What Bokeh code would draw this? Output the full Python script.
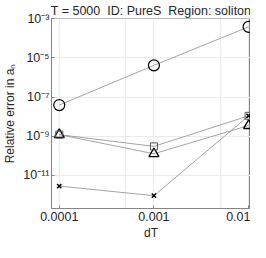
from bokeh.plotting import figure
from bokeh.models import FixedTicker, Range1d
from bokeh.embed import file_html
from bokeh.resources import INLINE

# ---- data ----
dT = [1e-4, 1e-3, 1e-2]
err_circle = [3.9e-8, 4.2e-6, 3.9e-4]
err_square = [1.2e-9, 3.0e-10, 1.1e-8]
err_triangle = [1.2e-9, 1.26e-10, 3.5e-9]
err_cross = [2.8e-12, 9e-13, 1.1e-8]

x_ticks = [1e-4, 1e-3, 1e-2]
x_tick_labels = ["0.0001", "0.001", "0.01"]
x_minor = [5e-4, 5e-3]
y_ticks = [1e-11, 1e-9, 1e-7, 1e-5, 1e-3]
y_tick_labels = ["10\u207b\u00b9\u00b9", "10\u207b\u2079", "10\u207b\u2077", "10\u207b\u2075", "10\u207b\u00b3"]

title_text = "T = 5000\u00a0\u00a0ID: PureS\u00a0\u00a0Region: soliton"
x_label = "dT"
y_label = "Relative error in a\u2099"

FONT = "Liberation Sans"
GRID = "#ebebeb"
AX = "#858585"
LINE = "#999999"
TXT = "#262626"

p = figure(width=250, height=242, x_axis_type="log", y_axis_type="log",
           x_range=Range1d(10 ** -4.082, 10 ** -1.98),
           y_range=Range1d(10 ** -12.7, 10 ** -2.98),
           output_backend="svg", toolbar_location=None,
           min_border_left=43, min_border_right=0, min_border_top=0, min_border_bottom=0)

p.title.text = title_text
p.title.align = "center"
p.title.text_font = FONT
p.title.text_font_size = "12.5px"
p.title.text_font_style = "normal"
p.title.text_color = TXT
p.title.offset = 0
p.title.standoff = 2

p.xaxis.ticker = FixedTicker(ticks=x_ticks, minor_ticks=x_minor)
p.xaxis.major_label_overrides = {t: l for t, l in zip(x_ticks, x_tick_labels)}
p.yaxis.ticker = FixedTicker(ticks=y_ticks, minor_ticks=[])
p.yaxis.major_label_overrides = {t: l for t, l in zip(y_ticks, y_tick_labels)}

p.xaxis.axis_label = x_label
p.yaxis.axis_label = y_label
for ax in (p.xaxis, p.yaxis):
    ax.axis_label_text_font = FONT
    ax.axis_label_text_font_size = "12px"
    ax.axis_label_text_font_style = "normal"
    ax.axis_label_text_color = TXT
    ax.axis_label_text_line_height = 0.9
    ax.major_label_text_font = FONT
    ax.major_label_text_font_size = "12.5px"
    ax.major_label_text_color = TXT
    ax.major_label_text_line_height = 0.9
    ax.axis_line_color = AX
    ax.major_tick_line_color = AX
    ax.major_tick_in = 3
    ax.major_tick_out = 0
    ax.minor_tick_in = 0
    ax.minor_tick_out = 0
    ax.minor_tick_line_color = None
p.xaxis.major_label_standoff = 3
p.xaxis.axis_label_standoff = 2
p.yaxis.major_label_standoff = 2
p.yaxis.axis_label_standoff = 3

p.outline_line_color = AX
p.xgrid.grid_line_color = GRID
p.xgrid.minor_grid_line_color = GRID
p.ygrid.grid_line_color = GRID

for ys in (err_circle, err_square, err_triangle, err_cross):
    p.line(dT, ys, line_color=LINE, line_width=0.9)

p.scatter(dT, err_circle, marker="circle", size=11, fill_color=None, line_color="black", line_width=1.2)
p.scatter(dT, err_triangle, marker="triangle", size=10, fill_color=None, line_color="black", line_width=1.4)
p.scatter(dT, err_square, marker="square", size=7, fill_color=None, line_color="#555555", line_width=1.0)
p.scatter(dT, err_cross, marker="x", size=6, line_color="black", line_width=1.5)

open("out.html", "w").write(file_html(p, INLINE))
